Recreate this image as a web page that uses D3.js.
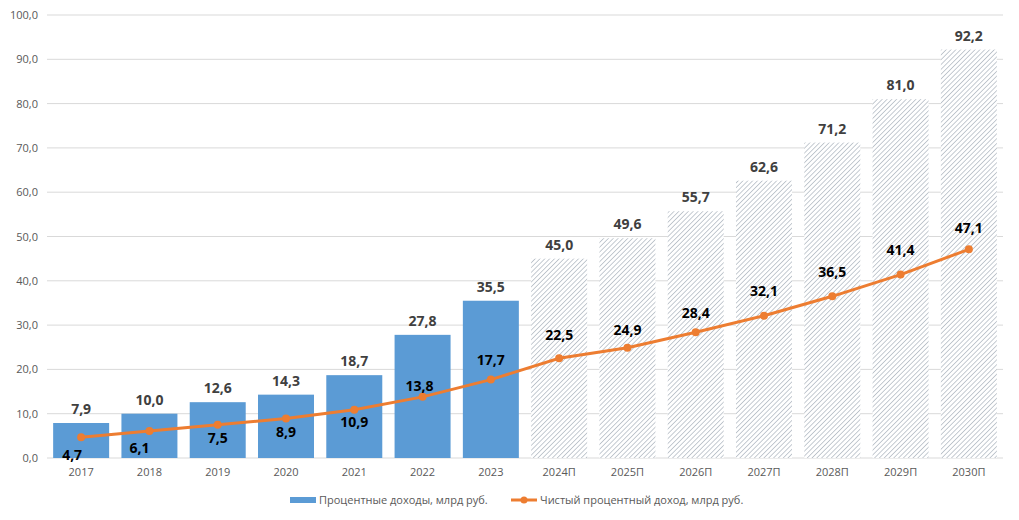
<!DOCTYPE html>
<html>
<head>
<meta charset="utf-8">
<script src="https://cdn.jsdelivr.net/npm/d3@7"></script>
<style>
  body { margin: 0; background: #fff; }
  text { font-family: "Open Sans", "DejaVu Sans", sans-serif; }
</style>
</head>
<body>
<script>
const years = ["2017","2018","2019","2020","2021","2022","2023","2024П","2025П","2026П","2027П","2028П","2029П","2030П"];
const income = [7.9,10.0,12.6,14.3,18.7,27.8,35.5,45.0,49.6,55.7,62.6,71.2,81.0,92.2];
const netIncome = [4.7,6.1,7.5,8.9,10.9,13.8,17.7,22.5,24.9,28.4,32.1,36.5,41.4,47.1];
const forecast = [false,false,false,false,false,false,false,true,true,true,true,true,true,true];
const yTicks = [0,10,20,30,40,50,60,70,80,90,100];
const seriesNames = ["Процентные доходы, млрд руб.", "Чистый процентный доход, млрд руб."];

// where the net income labels sit relative to their point
const netLabelOffset = [[-9,18],[-10,17],[0,13],[0,13],[0,12],[-3,-11],[0,-20],[0,-23],[0,-18],[0,-19],[0,-25],[0,-24],[0,-25],[0,-21]];

const W = 1019, H = 520;
const padL = 47, padR = 1003, padT = 15, padB = 458;

const fmt = v => d3.format(".1f")(v).replace(".", ",");

const svg = d3.select("body").append("svg")
  .attr("width", W)
  .attr("height", H);

const defs = svg.append("defs");
const pat = defs.append("pattern")
  .attr("id","hatch")
  .attr("patternUnits","userSpaceOnUse")
  .attr("width", 3.4)
  .attr("height", 3.4)
  .attr("patternTransform","rotate(45)");
pat.append("rect").attr("width",3.4).attr("height",3.4).attr("fill","#fff");
pat.append("line")
  .attr("x1",0).attr("y1",0).attr("x2",0).attr("y2",3.4)
  .attr("stroke","#95a0ad").attr("stroke-width",1.1);

const x = d3.scaleBand().domain(years).range([padL, padR]).paddingInner(0.18).paddingOuter(0.09);
const y = d3.scaleLinear().domain([0,100]).range([padB, padT]);

// grid
svg.append("g")
  .selectAll("line")
  .data(yTicks)
  .enter()
  .append("line")
  .attr("x1", padL)
  .attr("x2", padR)
  .attr("y1", d => y(d))
  .attr("y2", d => y(d))
  .attr("stroke", "#d9d9d9")
  .attr("stroke-width", 1);

const yAxis = d3.axisLeft(y).tickValues(yTicks).tickFormat(fmt).tickSize(0).tickPadding(9);
svg.append("g")
  .attr("transform", `translate(${padL},0)`)
  .call(yAxis)
  .call(g => g.select(".domain").remove())
  .call(g => g.selectAll("text").attr("fill","#595959").style("font-size","11px"));

const xAxis = d3.axisBottom(x).tickSize(0).tickPadding(10);
svg.append("g")
  .attr("transform", `translate(0,${padB})`)
  .call(xAxis)
  .call(g => g.select(".domain").remove())
  .call(g => g.selectAll("text").attr("fill","#595959").style("font-size","11px"));

// bars
svg.selectAll("rect.bar")
  .data(income)
  .enter()
  .append("rect")
  .attr("class","bar")
  .attr("x", (d,i) => x(years[i]))
  .attr("width", x.bandwidth())
  .attr("y", d => y(d))
  .attr("height", d => y(0) - y(d))
  .attr("fill", (d,i) => forecast[i] ? "url(#hatch)" : "#5b9bd5");

svg.selectAll("text.barlab")
  .data(income)
  .enter()
  .append("text")
  .attr("class","barlab")
  .attr("x", (d,i) => x(years[i]) + x.bandwidth()/2)
  .attr("y", d => y(d) - 9)
  .attr("text-anchor","middle")
  .attr("fill","#404040")
  .style("font-size","14px")
  .style("font-weight","bold")
  .text(fmt);

// line
const cx = (d,i) => x(years[i]) + x.bandwidth()/2;
const line = d3.line().x(cx).y(d => y(d));
svg.append("path")
  .datum(netIncome)
  .attr("d", line)
  .attr("fill","none")
  .attr("stroke","#ed7d31")
  .attr("stroke-width",3);

svg.selectAll("circle.pt")
  .data(netIncome)
  .enter()
  .append("circle")
  .attr("class","pt")
  .attr("cx", cx)
  .attr("cy", d => y(d))
  .attr("r", 4)
  .attr("fill","#ed7d31");

svg.selectAll("text.netlab")
  .data(netIncome)
  .enter()
  .append("text")
  .attr("class","netlab")
  .attr("x", (d,i) => cx(d,i) + netLabelOffset[i][0])
  .attr("y", (d,i) => y(d) + netLabelOffset[i][1] + 5)
  .attr("text-anchor","middle")
  .attr("fill","#000")
  .style("font-size","14px")
  .style("font-weight","bold")
  .text(fmt);

// legend
const legend = svg.append("g").attr("transform","translate(0,500)");
legend.append("rect")
  .attr("x", 290).attr("y", -3)
  .attr("width", 26).attr("height", 6)
  .attr("fill","#5b9bd5");
legend.append("text")
  .attr("x", 319).attr("y", 4)
  .attr("fill","#595959")
  .style("font-size","11px")
  .text(seriesNames[0]);
legend.append("line")
  .attr("x1", 511).attr("x2", 537)
  .attr("y1", 0).attr("y2", 0)
  .attr("stroke","#ed7d31").attr("stroke-width",3);
legend.append("circle")
  .attr("cx", 524).attr("cy", 0).attr("r", 3.5)
  .attr("fill","#ed7d31");
legend.append("text")
  .attr("x", 540).attr("y", 4)
  .attr("fill","#595959")
  .style("font-size","11px")
  .text(seriesNames[1]);
</script>
</body>
</html>
